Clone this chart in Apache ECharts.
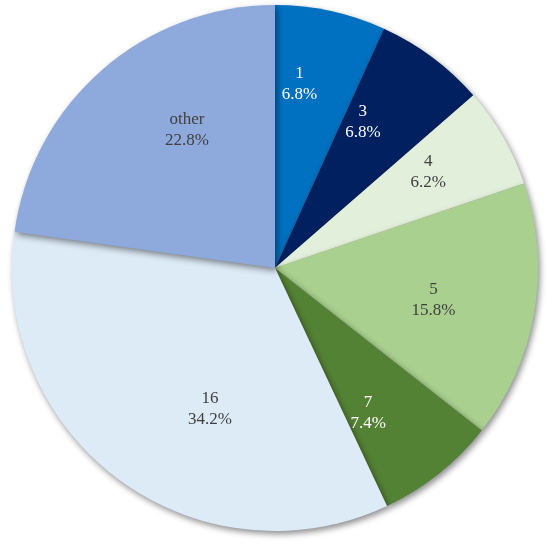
<!DOCTYPE html>
<html>
<head>
<meta charset="utf-8">
<script src="https://cdn.jsdelivr.net/npm/echarts@6/dist/echarts.min.js"></script>
<style>html,body{margin:0;padding:0;background:#fff}#c{width:550px;height:548px}</style>
</head>
<body>
<div id="c"></div>
<script>
const categories = ['1', '3', '4', '5', '7', '16', 'other'];
const values = [6.8, 6.8, 6.2, 15.8, 7.4, 34.2, 22.8];
const colors = ['#0070C0', '#002060', '#E2EFDA', '#A9D08E', '#548235', '#DDEBF7', '#8EA9DB'];
const labelColors = ['#FFFFFF', '#FFFFFF', '#404040', '#404040', '#FFFFFF', '#404040', '#404040'];
// fine label nudges (px) relative to the library's inside placement
const labelNudges = [[-12, -16], [-15, -8], [4, -10], [-11, 3], [-14, 10], [37, 3], [25, -8]];

const chart = echarts.init(document.getElementById('c'));
const shapeData = categories.map((c, i) => ({ name: c, value: values[i], itemStyle: { color: colors[i] } }));
const labelData = categories.map((c, i) => ({ name: c, value: values[i], label: { color: labelColors[i], offset: labelNudges[i] } }));
chart.setOption({
  animation: false,
  series: [
    {
      type: 'pie', center: [275, 268], radius: [0, 263], startAngle: 90, clockwise: true,
      label: { show: false }, labelLine: { show: false }, silent: true,
      itemStyle: { shadowBlur: 6, shadowOffsetX: 2, shadowOffsetY: 3, shadowColor: 'rgba(0,0,0,0.45)' },
      data: shapeData
    },
    {
      type: 'pie', center: [275, 268], radius: [75, 263], startAngle: 90, clockwise: true,
      silent: true, labelLine: { show: false },
      itemStyle: { color: 'rgba(0,0,0,0)' },
      label: {
        show: true, position: 'inside', fontFamily: 'Liberation Serif', fontSize: 17, lineHeight: 21,
        formatter: p => p.name + '\n' + p.value.toFixed(1) + '%'
      },
      data: labelData
    }
  ]
});
</script>
</body>
</html>
